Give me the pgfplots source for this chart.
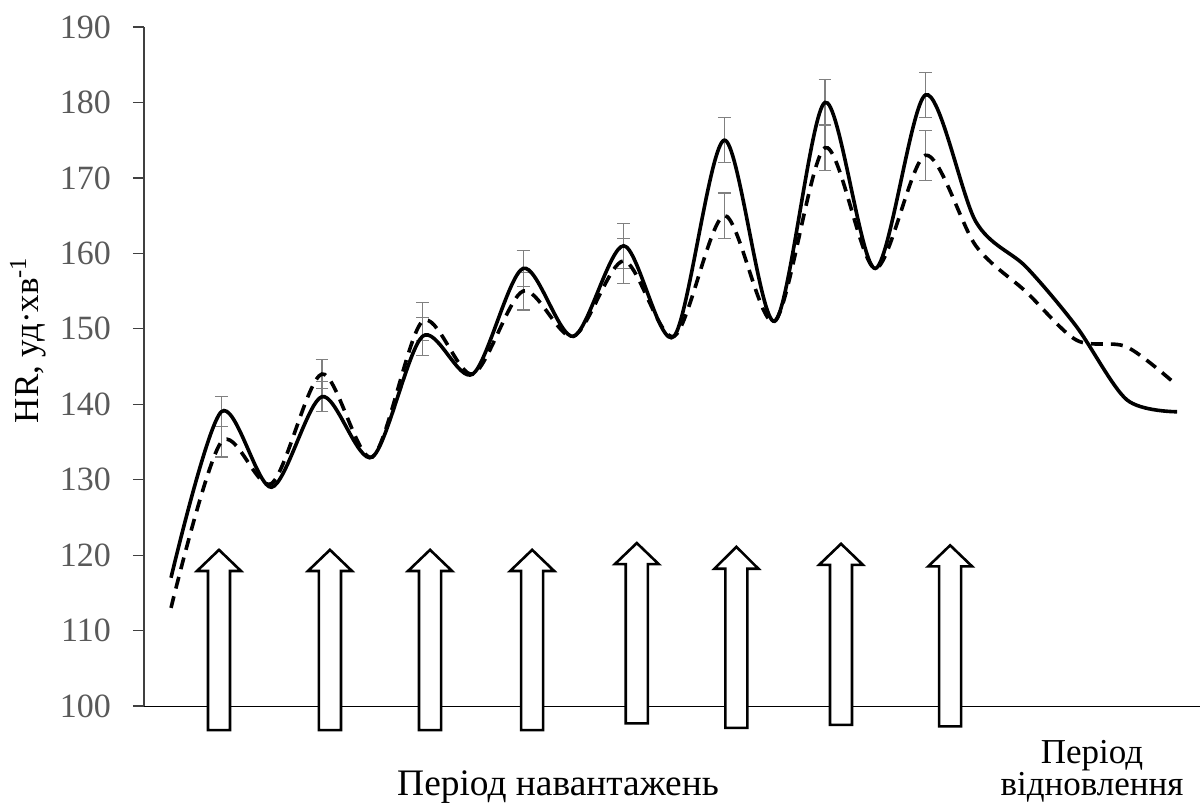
\documentclass[border=0pt]{standalone}
\usepackage{fontspec}
\setmainfont{Liberation Serif}
\usepackage{pgfplots}
\usepackage{pgfplotstable}
\pgfplotsset{compat=1.18}

\definecolor{tickgray}{RGB}{89,89,89}
\definecolor{axisgray}{RGB}{64,64,64}
\definecolor{errgray}{RGB}{128,128,128}

% Heart rate, first group (solid line)
\pgfplotstableread{
i hr
0 117
1 139
2 129
3 141
4 133
5 149
6 144
7 158
8 149
9 161
10 149
11 175
12 151
13 180
14 158
15 181
16 164.2
17 158.2
18 150.3
19 140.6
20 139
}\groupA

% Heart rate, second group (dashed line)
\pgfplotstableread{
i hr
0 113
1 135
2 129.5
3 144
4 133
5 151
6 144
7 155
8 149
9 159
10 149
11 165
12 151
13 174
14 158
15 173
16 161
17 154.9
18 148.5
19 147.6
20 142.5
}\groupB

% Peak values with their deviations
\pgfplotstableread{
i hr err
1 139 2
3 141 2
5 149 2.5
7 158 2.4
9 161 3
11 175 3
13 180 3
15 181 3
}\peaksA

\pgfplotstableread{
i hr err
1 135 2
3 144 1.9
5 151 2.5
7 155 2.5
9 159 3
11 165 3
13 174 3
15 173 3.3
}\peaksB

% block arrow: five x positions (left head, left shaft, tip, right shaft, right head), tip y, head base y, bottom y
\newcommand{\loadarrow}[8]{%
  \draw[line width=1.3pt, fill=white, line join=miter]
    (axis cs:#2,#8) -- (axis cs:#2,#7) -- (axis cs:#1,#7) -- (axis cs:#3,#6)
    -- (axis cs:#5,#7) -- (axis cs:#4,#7) -- (axis cs:#4,#8) -- cycle;}

\pgfplotsset{
  deviation/.style={
    draw=none, mark=none, forget plot,
    error bars/.cd, y dir=both, y explicit, error mark=|,
    error bar style={draw=errgray, line width=0.6pt, solid},
    error mark options={draw=errgray, line width=0.6pt, mark size=3.2pt, solid}
  }
}

\begin{document}
\begin{tikzpicture}
\path[use as bounding box] (-72pt,-52pt) rectangle (529pt,353pt);
\begin{axis}[
  scale only axis,
  width=528pt, height=339.5pt,
  xmin=-0.537, xmax=20.457,
  ymin=100, ymax=190,
  axis x line=bottom,
  axis y line=left,
  axis line style={-},
  x axis line style={black, line width=0.5pt},
  y axis line style={axisgray, line width=0.6pt},
  xtick=\empty,
  ytick={100,110,...,190},
  tick align=outside,
  major tick length=5.5pt,
  tick style={axisgray, line width=0.6pt},
  yticklabel style={font=\fontsize{17}{17}\selectfont, color=tickgray, xshift=-7.5pt},
  /pgf/number format/assume math mode=true,
  clip=false,
]
\addplot[deviation] table[x=i, y=hr, y error=err]{\peaksA};
\addplot[deviation] table[x=i, y=hr, y error=err]{\peaksB};

\addplot[black, line width=1.8pt, smooth, tension=0.5, mark=none]
  table[x=i, y=hr]{\groupA};
\addplot[black, line width=1.8pt, smooth, tension=0.5, mark=none,
  dash pattern=on 6pt off 4pt]
  table[x=i, y=hr]{\groupB};

\loadarrow{0.517}{0.735}{0.954}{1.173}{1.391}{120.7}{117.9}{96.8}
\loadarrow{2.723}{2.941}{3.160}{3.379}{3.597}{120.7}{117.9}{96.8}
\loadarrow{4.713}{4.931}{5.150}{5.369}{5.587}{120.7}{117.9}{96.8}
\loadarrow{6.743}{6.961}{7.180}{7.399}{7.617}{120.7}{117.9}{96.8}
\loadarrow{8.823}{9.041}{9.260}{9.479}{9.697}{121.6}{118.8}{97.7}
\loadarrow{10.803}{11.021}{11.240}{11.459}{11.677}{121.1}{118.2}{97.1}
\loadarrow{12.883}{13.101}{13.320}{13.539}{13.757}{121.5}{118.7}{97.5}
\loadarrow{15.053}{15.271}{15.490}{15.709}{15.927}{121.3}{118.5}{97.3}
\end{axis}

\node[rotate=90, font=\fontsize{17.5}{17.5}\selectfont] at (-58pt,183pt)
  {HR, уд·хв\textsuperscript{-1}};
\node[anchor=base, font=\fontsize{18.7}{18.7}\selectfont] at (207pt,-44.5pt)
  {Період навантажень};
\node[anchor=base, align=center, font=\fontsize{17.5}{16}\selectfont] at (474pt,-44.5pt)
  {Період\\відновлення};
\end{tikzpicture}
\end{document}
